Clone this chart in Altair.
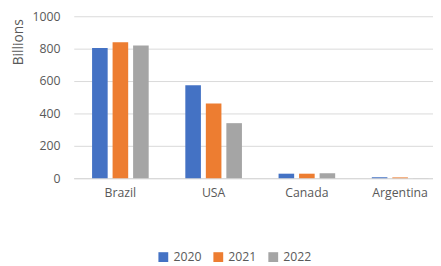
import altair as alt
import pandas as pd

countries = ["Brazil", "USA", "Canada", "Argentina"]
years = ["2020", "2021", "2022"]
v2020 = [804, 574, 28, 6]
v2021 = [840, 462, 28, 5]
v2022 = [820, 340, 30, 0.5]

rows = []
for i, c in enumerate(countries):
    for y, vals in zip(years, [v2020, v2021, v2022]):
        rows.append({"country": c, "year": y, "value": vals[i]})
df = pd.DataFrame(rows)

colors = ["#4472C4", "#ED7D31", "#A5A5A5"]
font = "Open Sans"
fs = 12.5

chart = alt.Chart(df).mark_bar().encode(
    x=alt.X("country:N", sort=countries,
            scale=alt.Scale(range=[0, 380], paddingInner=0.34, paddingOuter=0.17),
            axis=alt.Axis(title=None, labelAngle=0, labelPadding=9, ticks=False,
                          domainColor="#d9d9d9", domainWidth=1.3,
                          labelColor="#595959", labelFontSize=fs, labelFont=font)),
    xOffset=alt.XOffset("year:N", scale=alt.Scale(paddingInner=0.24, paddingOuter=0.12)),
    y=alt.Y("value:Q", scale=alt.Scale(domain=[0, 1000], nice=False),
            axis=alt.Axis(title="Billions", values=[0, 200, 400, 600, 800, 1000],
                          format="d",
                          domain=False, ticks=False, gridColor="#d9d9d9",
                          labelColor="#595959", labelFontSize=fs, labelFont=font,
                          labelPadding=14, titleColor="#595959", titleFontSize=14,
                          titleFont=font, titleFontWeight="normal",
                          titleX=-49, titleY=26)),
    color=alt.Color("year:N", scale=alt.Scale(domain=years, range=colors),
                    legend=alt.Legend(title=None, orient="none", direction="horizontal",
                                      legendX=85, legendY=239, symbolType="square",
                                      symbolSize=100, symbolStrokeWidth=0,
                                      labelColor="#595959", labelFontSize=fs,
                                      labelFont=font, columnPadding=10, padding=0)),
).properties(
    width=366, height=165,
    autosize=alt.AutoSizeParams(type="none"),
    padding={"left": 67, "top": 6, "right": 0, "bottom": 87},
).configure_view(stroke=None)

chart.save("out.html", embed_options={"renderer": "svg", "actions": False})
